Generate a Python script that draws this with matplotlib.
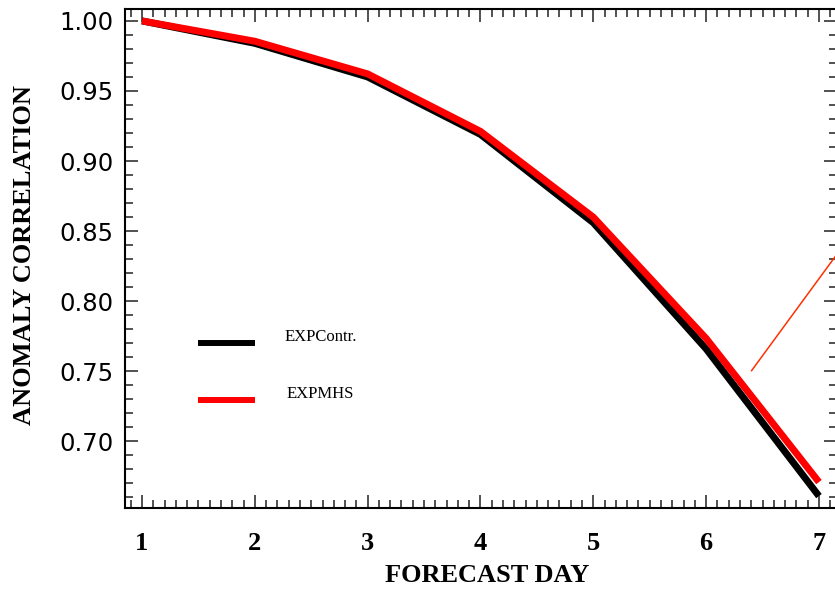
import matplotlib
matplotlib.use("Agg")
import matplotlib.pyplot as plt
from matplotlib.ticker import MultipleLocator, FormatStrFormatter

# Anomaly correlation by forecast day for two experiments
forecast_day = [1, 2, 3, 4, 5, 6, 7]
exp_contr = [1.000, 0.984, 0.960, 0.919, 0.856, 0.766, 0.661]
exp_mhs = [1.000, 0.9855, 0.9622, 0.9212, 0.860, 0.7735, 0.671]
series_names = ["EXPContr.", "EXPMHS"]
x_label = "FORECAST DAY"
y_label = "ANOMALY CORRELATION"

W, H = 835, 592
fig = plt.figure(figsize=(W / 100, H / 100), dpi=100)
left, right, bottom, top = 124.5, 837.0, 508.0, 9.0
ax = fig.add_axes([left / W, (H - bottom) / H, (right - left) / W, (bottom - top) / H])

ax.set_xlim(0.845, 7.16)
ax.set_ylim(0.6525, 1.0085)

ax.plot(forecast_day, exp_contr, color="black", lw=5.0, solid_joinstyle="miter",
        solid_capstyle="butt")
ax.plot(forecast_day, exp_mhs, color="#ff0000", lw=5.0, solid_joinstyle="miter",
        solid_capstyle="butt")

# pointer line running off the right edge
ax.plot([6.403, 7.271], [0.7505, 0.8458], color="#ff3000", lw=1.1, clip_on=False)

# legend drawn by hand
ax.plot([0.103, 0.183], [0.331, 0.331], transform=ax.transAxes, color="black",
        lw=4.3, solid_capstyle="butt")
ax.plot([0.103, 0.183], [0.216, 0.216], transform=ax.transAxes, color="#ff0000",
        lw=4.3, solid_capstyle="butt")
ax.text(0.225, 0.343, series_names[0], transform=ax.transAxes, fontsize=12,
        family="Liberation Serif", va="center", ha="left")
ax.text(0.227, 0.228, series_names[1], transform=ax.transAxes, fontsize=12,
        family="Liberation Serif", va="center", ha="left")

# axes styling
for s in ax.spines.values():
    s.set_linewidth(1.5)
ax.xaxis.set_major_locator(MultipleLocator(1))
ax.xaxis.set_minor_locator(MultipleLocator(0.1))
ax.yaxis.set_major_locator(MultipleLocator(0.05))
ax.yaxis.set_minor_locator(MultipleLocator(0.01))
ax.yaxis.set_major_formatter(FormatStrFormatter("%.2f"))
ax.tick_params(which="both", direction="in", top=True, right=True, width=1.1,
               color="#222222")
ax.tick_params(which="major", length=9.4)
ax.tick_params(which="minor", length=5.6)
ax.tick_params(axis="x", which="major", pad=17)
ax.tick_params(axis="y", which="major", pad=8)
for lab in ax.get_xticklabels():
    lab.set_family("Liberation Serif")
    lab.set_fontweight("bold")
    lab.set_fontsize(19)
for lab in ax.get_yticklabels():
    lab.set_family("DejaVu Sans")
    lab.set_fontsize(17.5)

fig.text(487 / W, 1 - 576 / H, x_label, family="Liberation Serif", fontweight="bold",
         fontsize=19, ha="center", va="center")
fig.text(25 / W, 1 - 255 / H, y_label, family="Liberation Serif", fontweight="bold",
         fontsize=19, ha="center", va="center", rotation=90)

fig.savefig("out.png", dpi=100)
